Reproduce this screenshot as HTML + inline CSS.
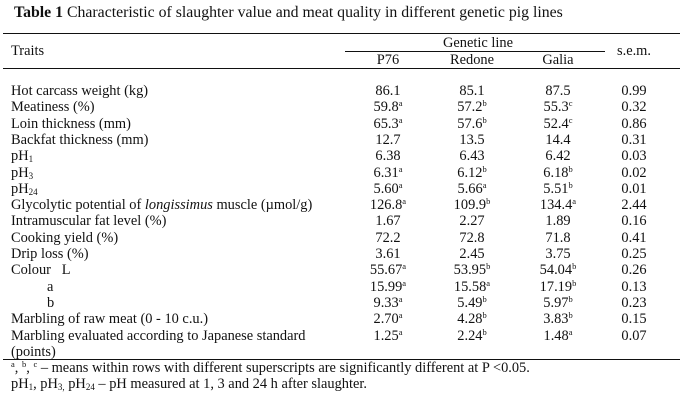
<!DOCTYPE html>
<html><head><meta charset="utf-8"><style>
body{margin:0;background:#fff;}
#t{position:relative;width:680px;height:400px;overflow:hidden;font-family:"Liberation Serif",serif;color:#111;font-size:14.4px;}
.r{position:absolute;height:16px;line-height:16px;white-space:nowrap;}
.c{text-align:center;width:80px;margin-left:-40px;}
.rule{position:absolute;background:#111;height:1.3px;}
sup{font-size:8.5px;vertical-align:5px;line-height:0;}
sub{font-size:9px;vertical-align:-2px;line-height:0;}
</style></head><body>
<div id="t">
<div class="r" style="left:14px;top:5px;font-size:15.8px;"><b>Table 1</b> Characteristic of slaughter value and meat quality in different genetic pig lines</div>
<div class="rule" style="left:3px;width:677px;top:33px;"></div>
<div class="r" style="left:11px;top:43px;">Traits</div>
<div class="r c" style="left:478px;top:35px;">Genetic line</div>
<div class="rule" style="left:345px;width:260px;top:51px;height:1px;"></div>
<div class="r c" style="left:388px;top:52px;">P76</div>
<div class="r c" style="left:472px;top:52px;">Redone</div>
<div class="r c" style="left:558px;top:52px;">Galia</div>
<div class="r c" style="left:634px;top:43px;">s.e.m.</div>
<div class="rule" style="left:3px;width:677px;top:68px;"></div>
<div id="rows"></div>
<div class="rule" style="left:3px;width:677px;top:359px;"></div>
<div class="r" style="left:11px;top:360px;"><sup>a</sup>, <sup>b</sup>, <sup>c</sup> – means within rows with different superscripts are significantly different at P &lt;0.05.</div>
<div class="r" style="left:11px;top:376px;">pH<sub>1</sub>, pH<sub>3,</sub> pH<sub>24</sub> – pH measured at 1, 3 and 24 h after slaughter.</div>
</div>
<script>
const traits=["Hot carcass weight (kg)","Meatiness (%)","Loin thickness (mm)","Backfat thickness (mm)","pH<sub>1</sub>","pH<sub>3</sub>","pH<sub>24</sub>","Glycolytic potential of <i>longissimus</i> muscle (µmol/g)","Intramuscular fat level (%)","Cooking yield (%)","Drip loss (%)","Colour&nbsp;&nbsp; L","a","b","Marbling of raw meat (0 - 10 c.u.)","Marbling evaluated according to Japanese standard"];
const p76=["86.1","59.8a","65.3a","12.7","6.38","6.31a","5.60a","126.8a","1.67","72.2","3.61","55.67a","15.99a","9.33a","2.70a","1.25a"];
const redone=["85.1","57.2b","57.6b","13.5","6.43","6.12b","5.66a","109.9b","2.27","72.8","2.45","53.95b","15.58a","5.49b","4.28b","2.24b"];
const galia=["87.5","55.3c","52.4c","14.4","6.42","6.18b","5.51b","134.4a","1.89","71.8","3.75","54.04b","17.19b","5.97b","3.83b","1.48a"];
const sem=["0.99","0.32","0.86","0.31","0.03","0.02","0.01","2.44","0.16","0.41","0.25","0.26","0.13","0.23","0.15","0.07"];
const root=document.getElementById('rows');
function fmt(v){const m=v.match(/^([\d.]+)([a-c]?)$/);return m[1]+(m[2]?'<sup>'+m[2]+'</sup>':'');}
function add(html,left,top,cls,name){const d=document.createElement('div');d.className='r'+(cls?' '+cls:'');d.style.left=left+'px';d.style.top=top+'px';d.innerHTML=html;


root.appendChild(d);}
traits.forEach((t,i)=>{const top=83+i*16.3;
const ind=(t==='a'||t==='b')?47:11;
add(t,ind,top,'','trait-label');
add(fmt(p76[i]),388,top,'c','p76-value');
add(fmt(redone[i]),472,top,'c','redone-value');
add(fmt(galia[i]),558,top,'c','galia-value');
add(sem[i],634,top,'c','sem-value');});
add('(points)',11,83+16*16.3,'','trait-label-cont');
</script>
</body></html>
